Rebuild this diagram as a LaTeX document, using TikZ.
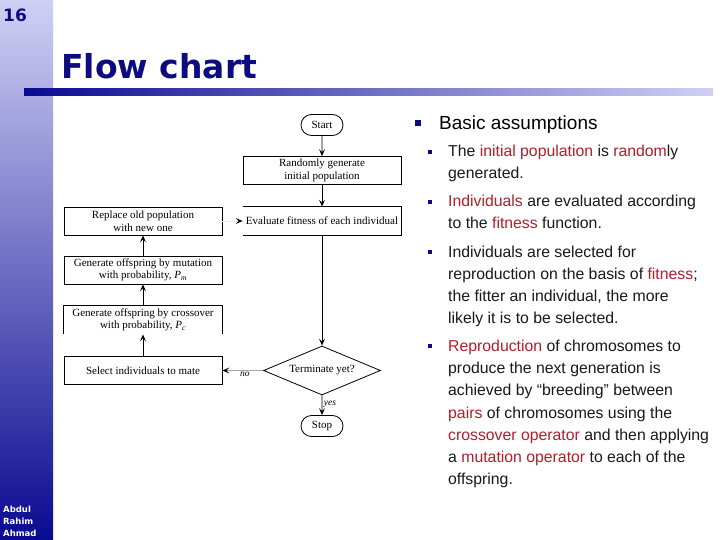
\documentclass[tikz,border=0pt]{standalone}
\usepackage{fontspec}
\setmainfont{Liberation Serif}
\newfontfamily\sansf{Liberation Sans}
\newfontfamily\dejav{DejaVu Sans}
\usetikzlibrary{shapes.geometric,shapes.misc,arrows.meta}
\definecolor{navy}{RGB}{12,12,128}
\definecolor{hlred}{RGB}{178,30,42}
\definecolor{txt}{RGB}{25,25,25}
\definecolor{barlight}{RGB}{208,208,245}
\definecolor{bardark}{RGB}{10,10,145}
\newcommand\hl[1]{\textcolor{hlred}{#1}}
\newcommand\probsub[1]{\textit{P}\textsubscript{\textit{#1}}}
\begin{document}
\begin{tikzpicture}[x=1pt,y=-1pt,
  box/.style={draw, line width=0.8pt, minimum width=158pt, minimum height=28pt, inner sep=0pt, align=center, font=\fontsize{11}{12.5}\selectfont},
  termbox/.style={draw, line width=0.8pt, rounded rectangle, minimum width=42pt, minimum height=21pt, inner sep=0pt, font=\fontsize{11}{12.5}\selectfont},
  arr/.style={-{Stealth[length=7pt,width=6pt,inset=3pt]}, line width=0.9pt},
  bt/.style={anchor=base west, inner sep=0pt, font=\sansf\fontsize{15.8}{22}\selectfont, text=txt},
  lbl/.style={inner sep=1.5pt, font=\fontsize{9.5}{11}\selectfont\itshape}]
\useasboundingbox (0,0) rectangle (720,540);
\fill[white] (0,0) rectangle (720,540);
% sidebar
\shade[top color=barlight, bottom color=bardark] (0,0) rectangle (53,540);
% title bar
\shade[left color=bardark, right color=barlight] (24,89) rectangle (713,96);
\node[anchor=base west, inner sep=0pt, text=navy, font=\dejav\bfseries\fontsize{17}{20}\selectfont] (pg) at (3,22) {16};
\node[anchor=base west, inner sep=0pt, text=navy, font=\dejav\bfseries\fontsize{33}{40}\selectfont] (title) at (61,79) {Flow chart};
\node[anchor=base west, inner sep=0pt, text=white, font=\dejav\bfseries\fontsize{8.5}{12}\selectfont, align=left] (auth1) at (3,512) {Abdul};
\node[anchor=base west, inner sep=0pt, text=white, font=\dejav\bfseries\fontsize{8.5}{12}\selectfont, align=left] (auth2) at (3,524) {Rahim};
\node[anchor=base west, inner sep=0pt, text=white, font=\dejav\bfseries\fontsize{8.5}{12}\selectfont, align=left] (auth3) at (3,536) {Ahmad};

% flowchart
\node[termbox] (start) at (322,125) {Start};
\node[box] (rand) at (322,170.5) {Randomly generate\\initial population};
\node[box, draw=none] (eval) at (322,221) {Evaluate fitness of each individual};
\draw[line width=0.8pt] (eval.north west) -- (eval.north east) -- (eval.south east) -- (eval.south west);
\node[draw, line width=0.8pt, diamond, aspect=2.4, minimum width=117pt, minimum height=49pt, inner sep=0pt, font=\fontsize{11}{12.5}\selectfont] (term) at (322,370.5) {Terminate yet?};
\node[termbox] (stop) at (322,426) {Stop};
\node[box] (sel) at (143,370.5) {Select individuals to mate};
\node[box, draw=none] (cross) at (143,320) {Generate offspring by crossover\\with probability, \probsub{c}};
\draw[line width=0.8pt] (cross.south west) -- (cross.north west) -- (cross.north east) -- (cross.south east);
\node[box] (mut) at (143,270) {Generate offspring by mutation\\with probability, \probsub{m}};
\node[box] (repl) at (143,221) {Replace old population\\with new one};

\draw[arr] (start) -- (rand);
\draw[arr] (rand) -- (eval);
\draw[arr] (eval) -- (term);
\draw[arr] (term) -- node[lbl, right, pos=0.45] {yes} (stop);
\draw[arr, draw=gray!70, -{Stealth[length=7pt,width=6pt,inset=3pt,color=black]}] (term.west) -- node[lbl, below, pos=0.45] {no} (sel.east);
\draw[arr] (sel) -- (cross);
\draw[arr] (cross) -- (mut);
\draw[arr] (mut) -- (repl);
\draw[arr, draw=gray!15, -{Stealth[length=7pt,width=6pt,inset=3pt,color=black]}] (repl.east) -- (eval.west);

% text column
\fill[navy] (415,120) rectangle ++(6,6);
\node[anchor=base west, inner sep=0pt, font=\sansf\fontsize{19}{22}\selectfont, text=black] (hdr) at (439,130) {Basic assumptions};
\fill[navy] (428,150) rectangle ++(4,4);
\node[bt] (l1) at (448,157) {The \hl{initial population} is \hl{random}ly};
\node[bt] (l2) at (448,179) {generated.};
\fill[navy] (428,200) rectangle ++(4,4);
\node[bt] (l3) at (448,207) {\hl{Individuals} are evaluated according};
\node[bt] (l4) at (448,229) {to the \hl{fitness} function.};
\fill[navy] (428,250) rectangle ++(4,4);
\node[bt] (l5) at (448,257) {Individuals are selected for};
\node[bt] (l6) at (448,279) {reproduction on the basis of \hl{fitness};};
\node[bt] (l7) at (448,301) {the fitter an individual, the more};
\node[bt] (l8) at (448,323) {likely it is to be selected.};
\fill[navy] (428,344) rectangle ++(4,4);
\node[bt] (l9) at (448,351) {\hl{Reproduction} of chromosomes to};
\node[bt] (l10) at (448,373) {produce the next generation is};
\node[bt] (l11) at (448,395) {achieved by “breeding” between};
\node[bt] (l12) at (448,418) {\hl{pairs} of chromosomes using the};
\node[bt] (l13) at (448,440) {\hl{crossover operator} and then applying};
\node[bt] (l14) at (448,462) {a \hl{mutation operator} to each of the};
\node[bt] (l15) at (448,484) {offspring.};
\end{tikzpicture}
\end{document}
